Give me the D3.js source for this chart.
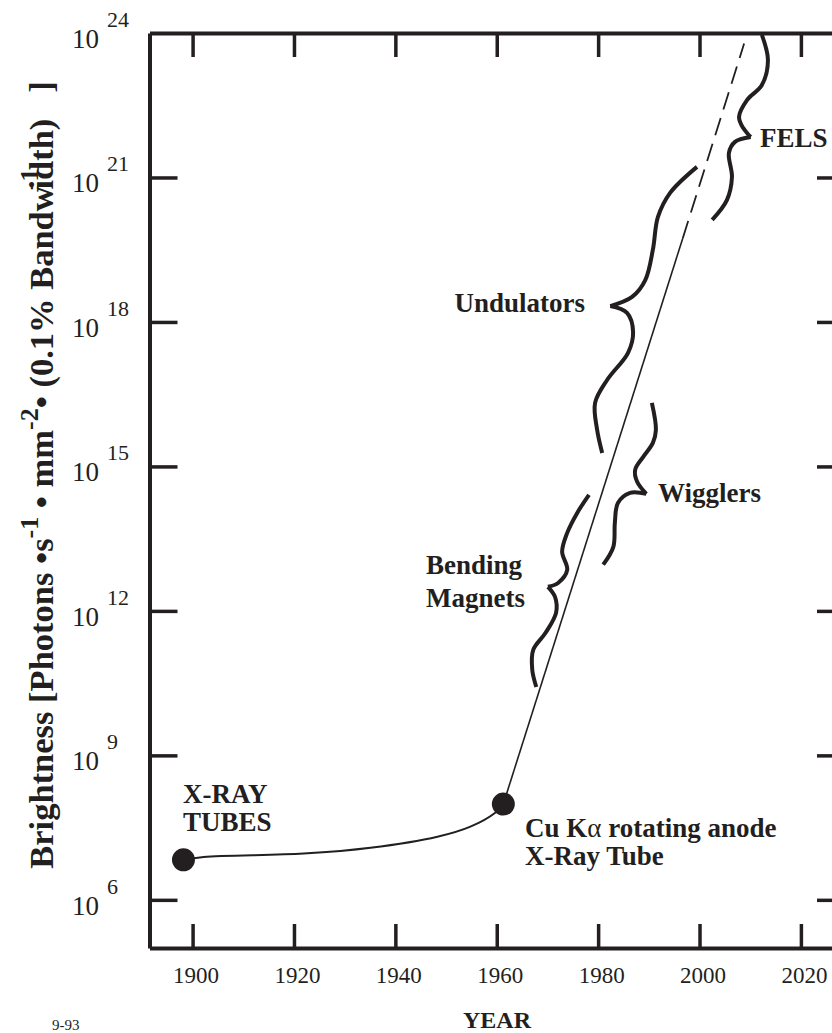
<!DOCTYPE html>
<html>
<head>
<meta charset="utf-8">
<script src="https://cdn.jsdelivr.net/npm/d3@7"></script>
<style>
  body { margin: 0; background: #fff; }
  svg { display: block; }
  text { font-family: "Liberation Serif", "Times New Roman", serif; fill: #231f20; }
</style>
</head>
<body>
<svg id="chart" width="832" height="1033"></svg>
<script>
// tick values
var yearTicks = [1900, 1920, 1940, 1960, 1980, 2000, 2020];
var exponentTicks = [6, 9, 12, 15, 18, 21, 24];

// [year, log10 brightness]
var tubeCurve = [[1898.2, 6.83], [1902.2, 6.89], [1921.9, 6.96], [1935.1, 7.08],
                 [1948.3, 7.31], [1954.8, 7.52], [1959.7, 7.81], [1961.3, 7.99]];
var tubeDots = [[1898.2, 6.83], [1961.3, 7.99]];
var trendSolid = [[1961.3, 7.99], [1996.7, 19.74]];
var trendDashed = [[1996.7, 19.74], [2008.8, 23.78]];

// braces, split at the tip
var felsUpper = [[2012.3, 23.96], [2013.5, 23.44], [2012.3, 22.92], [2009.4, 22.61],
                 [2007.8, 22.26], [2008.6, 22.03], [2010.1, 21.84]];
var felsLower = [[2010.1, 21.84], [2007.0, 21.74], [2005.8, 21.51], [2006.4, 21.01],
                 [2005.4, 20.53], [2002.5, 20.12]];
var undulatorUpper = [[1999.5, 21.22], [1994.2, 20.68], [1991.8, 20.18], [1990.8, 19.50],
                      [1989.3, 18.87], [1986.7, 18.52], [1982.4, 18.33]];
var undulatorLower = [[1982.4, 18.33], [1985.7, 18.19], [1986.9, 17.79], [1985.9, 17.36],
                      [1981.8, 16.80], [1979.4, 16.32], [1979.8, 15.76], [1980.8, 15.28]];
var wigglerUpper = [[1990.6, 16.32], [1991.4, 15.76], [1990.8, 15.49], [1988.9, 15.20],
                    [1987.3, 14.93], [1987.7, 14.68], [1989.5, 14.43]];
var wigglerLower = [[1989.5, 14.43], [1986.3, 14.45], [1983.9, 14.24], [1983.3, 13.83],
                    [1983.0, 13.33], [1981.0, 12.96]];
var bendingUpper = [[1978.2, 14.41], [1975.9, 14.04], [1973.9, 13.62], [1972.9, 13.23],
                    [1973.9, 12.85], [1972.1, 12.58], [1970.1, 12.50]];
var bendingLower = [[1970.1, 12.50], [1971.5, 12.29], [1971.7, 11.96], [1969.6, 11.54],
                    [1967.2, 11.19], [1967.0, 10.78], [1967.8, 10.42]];

var titleParts = [["Brightness [Photons \u2022s", 0], ["-1", 1], [" \u2022 mm", 0], ["-2", 1],
                  ["\u2022 (0.1% Bandw", 0], ["-1", 1], ["idth)   ]", 0]];

var ink = "#231f20";
var svg = d3.select("#chart");

var x = d3.scaleLinear().domain([1891.5, 2028.7]).range([149.5, 845]);
var y = d3.scaleLog().domain([1e5, 1e24]).range([948, 33]);

function px(d) { return x(d[0]); }
function py(d) { return y(Math.pow(10, d[1])); }

// frame and ticks
function styleAxis(g) {
    g.select(".domain").attr("stroke", ink).attr("stroke-width", 4);
    g.selectAll(".tick line").attr("stroke", ink).attr("stroke-width", 3.5);
}

svg.append("g")
    .attr("transform", "translate(0,948)")
    .call(d3.axisBottom(x).tickValues(yearTicks).tickSize(-24).tickSizeOuter(0)
        .tickPadding(19).tickFormat(d3.format("d")))
    .call(styleAxis)
    .selectAll("text")
    .attr("font-size", 23).attr("fill", ink).attr("dx", 3)
    .style("font-family", "Liberation Serif");

svg.append("g")
    .attr("transform", "translate(0,33)")
    .call(d3.axisTop(x).tickValues(yearTicks).tickSize(-24).tickSizeOuter(0).tickFormat(""))
    .call(styleAxis);

var yTickVals = exponentTicks.filter(function(e) { return e < 24; })
    .map(function(e) { return Math.pow(10, e); });

svg.append("g")
    .attr("transform", "translate(149.5,0)")
    .call(d3.axisLeft(y).tickValues(yTickVals).tickSize(-28).tickSizeOuter(0).tickFormat(""))
    .call(styleAxis);

svg.append("g")
    .attr("transform", "translate(845,0)")
    .call(d3.axisRight(y).tickValues(yTickVals).tickSize(-28).tickSizeOuter(0).tickFormat(""))
    .call(styleAxis);

// y tick labels 10^n
var yLabels = svg.append("g").selectAll("g").data(exponentTicks).enter().append("g");
yLabels.append("text")
    .attr("x", 99)
    .attr("y", function(e) { return y(Math.pow(10, e)) + 15; })
    .attr("text-anchor", "end")
    .attr("font-size", 27)
    .text("10");
yLabels.append("text")
    .attr("x", 107)
    .attr("y", function(e) { return y(Math.pow(10, e)) - 6; })
    .attr("font-size", 22)
    .text(function(e) { return e; });

// y axis title
var title = svg.append("text")
    .attr("transform", "translate(53,475) rotate(-90)")
    .attr("text-anchor", "middle")
    .attr("font-size", 34.5)
    .attr("font-weight", "bold")
    .attr("xml:space", "preserve")
    .style("white-space", "pre");
var raised = false;
titleParts.forEach(function(p, i) {
    var t = title.append("tspan").text(p[0]);
    if (p[1]) {
        t.attr("font-size", 26).attr("dy", -15);
        if (i === 5) t.attr("dx", -4);
        raised = true;
    } else if (raised) {
        t.attr("dy", 15);
        if (i === 6) t.attr("dx", -21);
        raised = false;
    }
});

svg.append("text")
    .attr("x", 497).attr("y", 1028)
    .attr("text-anchor", "middle")
    .attr("font-size", 24).attr("font-weight", "bold")
    .text("YEAR");

svg.append("text")
    .attr("x", 52).attr("y", 1030)
    .attr("font-size", 15)
    .text("9-93");

// curves
var smooth = d3.line().x(px).y(py).curve(d3.curveCatmullRom.alpha(0.5));
var straight = d3.line().x(px).y(py);

svg.append("path").attr("d", smooth(tubeCurve))
    .attr("fill", "none").attr("stroke", ink).attr("stroke-width", 2);

svg.append("path").attr("d", straight(trendSolid))
    .attr("fill", "none").attr("stroke", ink).attr("stroke-width", 1.6);

svg.append("path").attr("d", straight(trendDashed))
    .attr("fill", "none").attr("stroke", ink).attr("stroke-width", 1.8)
    .attr("stroke-dasharray", "18,9");

svg.selectAll("circle.dot").data(tubeDots).enter().append("circle")
    .attr("class", "dot")
    .attr("cx", px).attr("cy", py).attr("r", 11.5)
    .attr("fill", ink);

[felsUpper, felsLower, undulatorUpper, undulatorLower,
 wigglerUpper, wigglerLower, bendingUpper, bendingLower].forEach(function(b) {
    svg.append("path").attr("d", smooth(b))
        .attr("fill", "none").attr("stroke", ink)
        .attr("stroke-width", 4).attr("stroke-linecap", "butt");
});

// labels
function label(txt, lx, ly, anchor) {
    svg.append("text")
        .attr("x", lx).attr("y", ly)
        .attr("text-anchor", anchor || "start")
        .attr("font-size", 27).attr("font-weight", "bold")
        .text(txt);
}
label("FELS", 760, 147);
label("Undulators", 585, 312, "end");
label("Wigglers", 658, 502);
label("Bending", 426, 574);
label("Magnets", 426, 607);
label("X-RAY", 183, 803);
label("TUBES", 183, 831);

var cu = svg.append("text")
    .attr("x", 525).attr("y", 837)
    .attr("font-size", 27).attr("font-weight", "bold");
cu.append("tspan").text("Cu K");
cu.append("tspan").attr("font-weight", "normal").text("\u03b1");
cu.append("tspan").text(" rotating anode");
label("X-Ray Tube", 525, 865);
</script>
</body>
</html>
